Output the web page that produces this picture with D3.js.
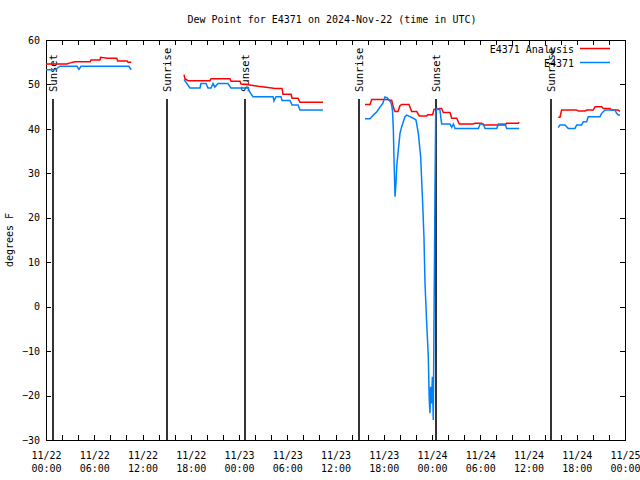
<!DOCTYPE html>
<html>
<head>
<meta charset="utf-8">
<script src="https://cdn.jsdelivr.net/npm/d3@7"></script>
<style>
  body { margin: 0; background: #fff; }
  svg { display: block; }
  text { font-family: "DejaVu Sans Mono", "Liberation Mono", monospace; font-size: 10px; fill: #000; }
</style>
</head>
<body>
<svg id="chart" width="640" height="480"></svg>
<script>
// ---- Data (hours after 2024-11-22 00:00 UTC; null marks a gap) ----
const titleText = "Dew Point for E4371 on 2024-Nov-22 (time in UTC)";
const yLabel = "degrees F";
const seriesNames = ["E4371 Analysis", "E4371"];
const yTicks = [-30, -20, -10, 0, 10, 20, 30, 40, 50, 60];

const analysisHours = [
  0, 2.6, 2.9, 3.6, 5.5, 5.6, 6.7, 6.8, 7.6, 8.8, 8.9, 10.1, 10.2, 10.6,
  null,
  17.16, 17.28, 17.66, 20.39, 20.52, 22.88, 23.0, 24.12, 24.25, 25.37, 26.36, 27.6, 28.48, 29.35, 29.47, 30.47, 30.59, 31.34, 31.58, 34.44,
  null,
  39.67, 40.29, 40.5, 42.36, 42.99, 43.19, 43.4, 43.77, 44.02, 44.23, 45.14, 45.47, 46.1, 46.42, 47.34, 47.46, 48.08, 48.25, 48.99, 49.2, 49.4, 50.24, 50.45, 51.07, 51.39, 53.1, 53.35, 54.18, 54.38, 57.08, 57.29, 58.73, 58.85,
  null,
  63.7, 63.91, 64.12, 65.99, 66.19, 67.02, 67.23, 68.05, 68.27, 69.1, 69.3, 70.13, 70.34, 71.16, 71.37
];
const analysisDewpt = [
  54.6, 54.6, 54.8, 55.1, 55.1, 55.5, 55.5, 56.1, 55.9, 55.9, 55.3, 55.3, 55.0, 55.0,
  null,
  52.2, 51.3, 50.85, 50.85, 51.3, 51.3, 50.7, 50.7, 50.1, 49.9, 49.6, 49.3, 49.1, 49.1, 47.8, 47.8, 46.9, 46.9, 46.0, 46.0,
  null,
  45.5, 45.5, 46.6, 46.6, 46.4, 44.9, 43.9, 43.9, 45.2, 45.5, 45.5, 43.9, 43.9, 42.9, 42.9, 43.2, 43.2, 44.4, 44.6, 44.6, 43.7, 43.7, 42.4, 42.4, 41.1, 41.1, 41.25, 41.25, 40.9, 40.9, 41.25, 41.25, 41.5,
  null,
  42.6, 42.6, 44.25, 44.25, 44.0, 44.0, 44.25, 44.25, 45.0, 45.0, 44.6, 44.6, 44.25, 44.25, 43.9
];

const stationHours = [
  0, 1.1, 1.75, 3.85, 4.1, 4.35, 10.3, 10.6,
  null,
  17.16, 17.9, 19.15, 19.27, 19.9, 20.14, 20.52, 20.77, 21.0, 21.39, 22.63, 23.0, 25.12, 25.37, 25.74, 28.23, 28.35, 28.6, 29.22, 29.35, 30.34, 30.59, 31.34, 31.58, 34.44,
  null,
  39.67, 40.29, 40.7, 41.12, 41.53, 41.87, 42.15, 42.44, 42.69, 42.86, 42.99, 43.09, 43.19, 43.31, 43.4, 43.52, 43.61, 43.81, 44.02, 44.23, 44.64, 44.85, 45.26, 45.67, 46.01, 46.3, 46.59, 46.84, 47.0, 47.13, 47.34, 47.54, 47.66, 47.75, 47.83, 47.96, 48.04, 48.16, 48.25, 48.37, 48.46, 48.62, 48.99, 49.2, 50.24, 50.45, 50.66, 50.87, 53.77, 53.98, 54.38, 54.6, 56.05, 56.25, 57.08, 57.29, 58.85,
  null,
  63.7, 63.91, 64.54, 64.95, 65.78, 65.99, 66.61, 66.81, 67.23, 67.43, 68.89, 69.1, 69.51, 70.75, 70.96, 71.16, 71.37
];
const stationDewpt = [
  53.3, 53.3, 54.1, 54.1, 53.4, 54.1, 54.1, 53.3,
  null,
  51.1, 49.2, 49.2, 50.2, 50.2, 49.2, 49.2, 50.2, 49.4, 50.2, 50.2, 49.2, 49.2, 48.2, 47.25, 47.25, 46.3, 47.25, 47.25, 46.4, 46.4, 45.4, 45.4, 44.25, 44.25,
  null,
  42.3, 42.3, 43.1, 43.8, 44.9, 45.7, 47.2, 47.0, 46.4, 46.05, 45.3, 44.0, 40.0, 30.75, 24.75, 27.75, 31.5, 35.25, 39.0, 40.5, 42.75, 43.1, 42.75, 42.4, 42.0, 39.0, 33.75, 23.25, 15.75, 5.25, -3.75, -11.25, -21.0, -24.0, -18.0, -21.75, -15.75, -25.5, -3.75, 26.25, 43.5, 44.6, 44.25, 41.1, 41.1, 40.35, 41.1, 40.1, 40.1, 41.1, 41.1, 40.1, 40.1, 41.1, 41.1, 40.1, 40.1,
  null,
  40.3, 40.9, 40.9, 40.1, 40.1, 40.9, 40.9, 41.6, 41.6, 42.75, 42.75, 43.5, 44.25, 44.25, 43.5, 43.1, 43.1
];

const sunEventHours = [0.87, 15.05, 24.7, 38.92, 48.5, 62.8];
const sunEventLabels = ["Sunset", "Sunrise", "Sunset", "Sunrise", "Sunset", "Sunrise"];

// ---- Layout ----
const margin = { left: 46, right: 15, top: 40, bottom: 40 };
const W = 640, H = 480;
const t0 = Date.UTC(2024, 10, 22, 0, 0);
const t1 = Date.UTC(2024, 10, 25, 0, 0);
const hourToDate = h => new Date(t0 + h * 3600000);

const svg = d3.select("#chart");
const x = d3.scaleUtc().domain([new Date(t0), new Date(t1)]).range([margin.left, W - margin.right]);
const y = d3.scaleLinear().domain([-30, 60]).range([H - margin.bottom, margin.top]);

const x0 = x.range()[0], x1 = x.range()[1], yTop = y.range()[1], yBot = y.range()[0];

// Title
svg.append("text").attr("x", 332).attr("y", 23).attr("text-anchor", "middle").text(titleText);

// Y label
svg.append("text")
  .attr("transform", `translate(13,${(yTop + yBot) / 2}) rotate(-90)`)
  .attr("text-anchor", "middle").text(yLabel);

// Axes: ticks
const axisG = svg.append("g").attr("shape-rendering", "crispEdges");
const majorX = d3.utcHour.every(6).range(new Date(t0), new Date(t1 + 1));
const minorX = d3.utcHour.every(2).range(new Date(t0), new Date(t1 + 1));

// bottom axis via d3.axisBottom (ticks inward)
const fmtDate = d3.utcFormat("%m/%d");
const fmtTime = d3.utcFormat("%H:%M");
const bottomAxis = d3.axisBottom(x).tickValues(majorX).tickSize(0).tickFormat("");
const bAx = axisG.append("g").attr("transform", `translate(0,${yBot})`).call(bottomAxis);
bAx.select(".domain").remove();
bAx.selectAll(".tick").each(function (d) {
  const g = d3.select(this);
  g.append("text").attr("y", 19).attr("text-anchor", "middle").attr("fill", "#000").text(fmtDate(d));
  g.append("text").attr("y", 32).attr("text-anchor", "middle").attr("fill", "#000").text(fmtTime(d));
});
minorX.forEach(d => {
  const px = Math.round(x(d)) + 0.5;
  axisG.append("line").attr("x1", px).attr("x2", px).attr("y1", yBot).attr("y2", yBot - 5).attr("stroke", "#000");
  axisG.append("line").attr("x1", px).attr("x2", px).attr("y1", yTop).attr("y2", yTop + 5).attr("stroke", "#000");
});

// left axis
const leftAxis = d3.axisLeft(y).tickValues(yTicks).tickSize(0).tickPadding(6);
const lAx = axisG.append("g").attr("transform", `translate(${x0},0)`).call(leftAxis);
lAx.select(".domain").remove();
lAx.selectAll("text").style("font-family", "'DejaVu Sans Mono', monospace").style("font-size", "10px").attr("fill", "#000");
yTicks.forEach(v => {
  const py = Math.round(y(v)) + 0.5;
  axisG.append("line").attr("x1", x0).attr("x2", x0 + 5).attr("y1", py).attr("y2", py).attr("stroke", "#000");
  axisG.append("line").attr("x1", x1).attr("x2", x1 - 5).attr("y1", py).attr("y2", py).attr("stroke", "#000");
});
bAx.selectAll("text").style("font-family", "'DejaVu Sans Mono', monospace").style("font-size", "10px");

// Frame
axisG.append("rect").attr("x", x0 + 0.5).attr("y", yTop + 0.5)
  .attr("width", x1 - x0).attr("height", yBot - yTop)
  .attr("fill", "none").attr("stroke", "#000");

// Sunrise / sunset markers
const sunG = svg.append("g");
sunEventHours.forEach((h, i) => {
  const px = Math.round(x(hourToDate(h)));
  sunG.append("line").attr("x1", px).attr("x2", px).attr("y1", 99).attr("y2", yBot)
    .attr("stroke", "#000").attr("stroke-width", 1.6);
  sunG.append("text")
    .attr("transform", `translate(${px + 4},92) rotate(-90)`)
    .attr("text-anchor", "start").style("font-size", "10.5px").text(sunEventLabels[i]);
});

// Lines
function makeData(hours, vals) {
  return hours.map((h, i) => ({ t: h === null ? null : hourToDate(h), v: vals[i] }));
}
const line = d3.line()
  .defined(d => d.t !== null && d.v !== null)
  .x(d => x(d.t)).y(d => y(d.v));

const colors = ["#ff0000", "#0080ff"];
svg.append("path").datum(makeData(analysisHours, analysisDewpt))
  .attr("d", line).attr("fill", "none").attr("stroke", colors[0]).attr("stroke-width", 1.5);
svg.append("path").datum(makeData(stationHours, stationDewpt))
  .attr("d", line).attr("fill", "none").attr("stroke", colors[1]).attr("stroke-width", 1.5);

// Legend
const legY = [49, 63];
seriesNames.forEach((n, i) => {
  svg.append("text").attr("x", 574).attr("y", legY[i]).attr("dy", "0.35em")
    .attr("text-anchor", "end").text(n);
  svg.append("line").attr("x1", 580).attr("x2", 610).attr("y1", legY[i] - 0.5).attr("y2", legY[i] - 0.5)
    .attr("stroke", colors[i]).attr("stroke-width", 1.5);
});
</script>
</body>
</html>
